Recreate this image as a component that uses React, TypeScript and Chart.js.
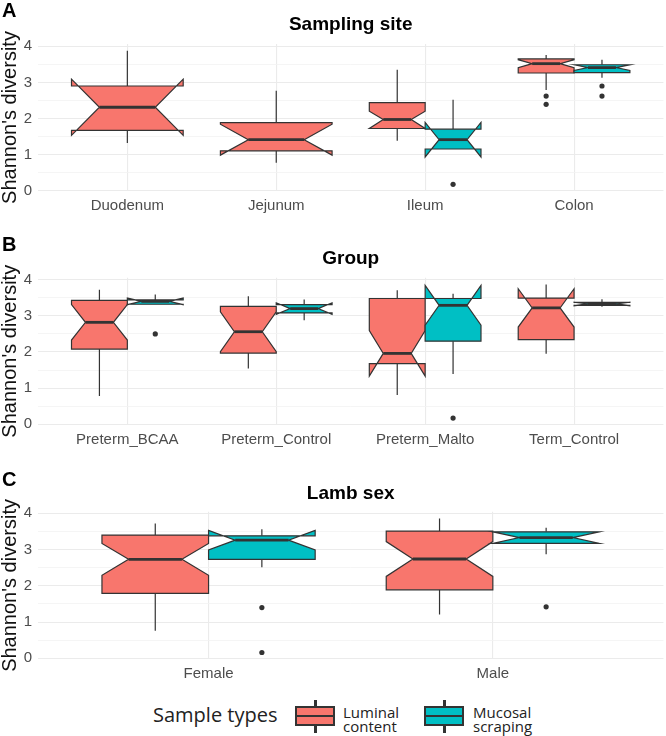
import React, { useEffect, useRef } from 'react';
import { Chart, registerables } from 'chart.js';

Chart.register(...registerables);

// Box statistics order: [lowerWhisker, q1, median, q3, upperWhisker, notchLower, notchUpper]
const siteCategories = ['Duodenum', 'Jejunum', 'Ileum', 'Colon'];
const siteLuminal = [
  [1.32, 1.67, 2.31, 2.90, 3.88, 1.53, 3.09],
  [0.77, 1.10, 1.41, 1.88, 2.77, 0.98, 1.84],
  [1.38, 1.72, 1.97, 2.44, 3.35, 1.72, 2.20],
  [2.79, 3.26, 3.52, 3.65, 3.76, 3.41, 3.63],
];
const siteMucosal = [
  null,
  null,
  [1.15, 1.15, 1.41, 1.70, 2.52, 0.93, 1.89],
  [3.13, 3.27, 3.41, 3.49, 3.63, 3.33, 3.49],
];
const siteLuminalOutliers = [[], [], [], [2.62, 2.39]];
const siteMucosalOutliers = [[], [], [0.17], [2.90, 2.62]];

const groupCategories = ['Preterm_BCAA', 'Preterm_Control', 'Preterm_Malto', 'Term_Control'];
const groupLuminal = [
  [0.78, 2.08, 2.82, 3.43, 3.72, 2.33, 3.31],
  [1.54, 1.97, 2.56, 3.26, 3.54, 2.01, 3.11],
  [0.81, 1.68, 1.96, 3.48, 3.71, 1.33, 2.59],
  [1.95, 2.34, 3.22, 3.49, 3.87, 2.69, 3.75],
];
const groupMucosal = [
  [3.32, 3.32, 3.40, 3.44, 3.59, 3.31, 3.49],
  [2.88, 3.08, 3.20, 3.31, 3.45, 3.04, 3.36],
  [1.39, 2.30, 3.29, 3.48, 3.61, 2.74, 3.84],
  [3.25, 3.29, 3.33, 3.37, 3.46, 3.28, 3.38],
];
const groupLuminalOutliers = [[], [], [], []];
const groupMucosalOutliers = [[2.50], [], [0.17], []];

const sexCategories = ['Female', 'Male'];
const sexLuminal = [
  [0.76, 1.79, 2.73, 3.40, 3.72, 2.29, 3.17],
  [1.21, 1.89, 2.74, 3.51, 3.86, 2.26, 3.22],
];
const sexMucosal = [
  [2.51, 2.73, 3.26, 3.38, 3.56, 2.99, 3.53],
  [2.87, 3.17, 3.33, 3.49, 3.60, 3.17, 3.49],
];
const sexLuminalOutliers = [[], []];
const sexMucosalOutliers = [[1.40, 0.16], [1.42]];

const yTickValues = [0, 0.5, 1, 1.5, 2, 2.5, 3, 3.5, 4];
const groupNames = ['Luminal content', 'Mucosal scraping'];
const groupColors = ['#F8766D', '#00BFC4'];
const yTitle = "Shannon's diversity";
const legendTitle = 'Sample types';

const OUTLINE = '#333333';

type Stats = number[] | null;

interface PanelProps {
  letter: string;
  title: string;
  categories: string[];
  luminal: Stats[];
  mucosal: Stats[];
  lumOut: number[][];
  mucOut: number[][];
  top: number;
  height: number;
  plotTop: number;
  plotBottom: number;
  letterY: number;
  titleY: number;
}

function BoxPanel(p: PanelProps) {
  const ref = useRef<HTMLCanvasElement>(null);
  useEffect(() => {
    if (!ref.current) return;
    const n = p.categories.length;
    const groups = [p.luminal, p.mucosal];
    const outs = [p.lumOut, p.mucOut];
    const pos = (i: number, g: number) => {
      const both = p.luminal[i] && p.mucosal[i];
      if (!both) return { cx: i + 1, w: 0.75 };
      return g === 0 ? { cx: i + 1 - 0.1875, w: 0.375 } : { cx: i + 1 + 0.1875, w: 0.375 };
    };
    const vals: number[] = [];
    groups.forEach((arr) => arr.forEach((s) => { if (s) { vals.push(s[0], s[4]); } }));
    outs.forEach((arr) => arr.forEach((o) => vals.push(...o)));
    const lo = Math.min(...vals);
    const hi = Math.max(...vals);
    const pad = (hi - lo) * 0.05;

    const mkPts = (o: number[][], g: number) =>
      o.flatMap((arr, i) => arr.map((v) => ({ x: pos(i, g).cx, y: v })));

    const boxPlugin = {
      id: 'notchedBoxes',
      beforeDatasetsDraw(chart: any) {
        const { ctx, scales } = chart;
        const xs = scales.x;
        const ys = scales.y;
        const Y = (v: number) => ys.getPixelForValue(v);
        ctx.save();
        groups.forEach((arr, g) => {
          arr.forEach((s, i) => {
            if (!s) return;
            const [wl, q1, med, q3, wh, nl, nu] = s;
            const { cx, w } = pos(i, g);
            const xl = xs.getPixelForValue(cx - w / 2);
            const xr = xs.getPixelForValue(cx + w / 2);
            const xc = xs.getPixelForValue(cx);
            const ind = (xr - xl) * 0.25;
            ctx.strokeStyle = OUTLINE;
            ctx.lineWidth = 1.2;
            ctx.lineJoin = 'miter';
            ctx.beginPath();
            ctx.moveTo(xc, Y(q3));
            ctx.lineTo(xc, Y(wh));
            ctx.moveTo(xc, Y(q1));
            ctx.lineTo(xc, Y(wl));
            ctx.stroke();
            ctx.beginPath();
            ctx.moveTo(xl, Y(q3));
            ctx.lineTo(xl, Y(nu));
            ctx.lineTo(xl + ind, Y(med));
            ctx.lineTo(xl, Y(nl));
            ctx.lineTo(xl, Y(q1));
            ctx.lineTo(xr, Y(q1));
            ctx.lineTo(xr, Y(nl));
            ctx.lineTo(xr - ind, Y(med));
            ctx.lineTo(xr, Y(nu));
            ctx.lineTo(xr, Y(q3));
            ctx.closePath();
            ctx.fillStyle = groupColors[g];
            ctx.fill();
            ctx.lineWidth = 1.2;
            ctx.stroke();
            ctx.beginPath();
            ctx.lineWidth = 2.8;
            ctx.moveTo(xl + ind, Y(med));
            ctx.lineTo(xr - ind, Y(med));
            ctx.stroke();
          });
        });
        ctx.restore();
      },
    };

    const textPlugin = {
      id: 'panelText',
      afterDraw(chart: any) {
        const { ctx, chartArea } = chart;
        ctx.save();
        ctx.fillStyle = '#000';
        ctx.textBaseline = 'middle';
        ctx.textAlign = 'left';
        ctx.font = 'bold 20px "Liberation Sans", Arial, sans-serif';
        ctx.fillText(p.letter, 2, p.letterY);
        ctx.textAlign = 'center';
        ctx.font = 'bold 19px "Liberation Sans", Arial, sans-serif';
        ctx.fillText(p.title, (chartArea.left + chartArea.right) / 2, p.titleY);
        ctx.restore();
      },
    };

    const chart = new Chart(ref.current, {
      type: 'scatter',
      data: {
        datasets: groupNames.map((name, g) => ({
          label: name,
          data: mkPts(outs[g], g),
          pointRadius: 2.6,
          pointHoverRadius: 2.6,
          pointBackgroundColor: OUTLINE,
          pointBorderWidth: 0,
        })),
      },
      options: {
        animation: false,
        responsive: false,
        devicePixelRatio: 1,
        events: [],
        layout: { padding: { top: p.plotTop, right: 1, left: 0, bottom: 0 } },
        plugins: {
          legend: { display: false },
          tooltip: { enabled: false },
          title: { display: false },
        },
        scales: {
          x: {
            type: 'linear',
            min: 0.4,
            max: n + 0.6,
            afterBuildTicks: (s: any) => {
              s.ticks = p.categories.map((_, i) => ({ value: i + 1 }));
            },
            afterFit: (s: any) => {
              s.height = p.height - p.plotBottom;
            },
            ticks: {
              callback: (v: any) => p.categories[Math.round(Number(v)) - 1] ?? '',
              font: { family: '"Liberation Sans", Arial, sans-serif', size: 15 },
              color: '#4D4D4D',
              padding: 6,
              maxRotation: 0,
              autoSkip: false,
            },
            grid: { color: '#EBEBEB', lineWidth: 1.1, drawTicks: false },
            border: { display: false },
          },
          y: {
            type: 'linear',
            min: lo - pad,
            max: hi + pad,
            afterBuildTicks: (s: any) => {
              s.ticks = yTickValues.map((v) => ({ value: v }));
            },
            afterFit: (s: any) => {
              s.width = 38;
            },
            ticks: {
              callback: (v: any) => (Number.isInteger(Number(v)) ? String(v) : ''),
              font: { family: '"Liberation Sans", Arial, sans-serif', size: 15 },
              color: '#4D4D4D',
              padding: 6,
              autoSkip: false,
            },
            grid: {
              color: (c: any) => (Number.isInteger(c.tick?.value) ? '#EBEBEB' : '#F3F3F3'),
              lineWidth: (c: any) => (Number.isInteger(c.tick?.value) ? 1.1 : 0.8),
              drawTicks: false,
            },
            border: { display: false },
            title: {
              display: true,
              text: yTitle,
              font: { family: '"Liberation Sans", Arial, sans-serif', size: 20, lineHeight: 1 },
              color: '#111',
              padding: { top: 0, bottom: 0 },
            },
          },
        },
      },
      plugins: [boxPlugin, textPlugin],
    } as any);
    return () => chart.destroy();
  }, []);
  return (
    <canvas
      ref={ref}
      width={666}
      height={p.height}
      style={{ position: 'absolute', left: 0, top: p.top, width: 666, height: p.height, display: 'block' }}
    />
  );
}

function LegendKey({ left, color }: { left: number; color: string }) {
  return (
    <div style={{ position: 'absolute', left, top: 10, width: 40, height: 33 }}>
      <div style={{ position: 'absolute', left: 19, top: 0, width: 2.6, height: 33, background: OUTLINE }} />
      <div
        style={{
          position: 'absolute',
          left: 0,
          top: 6,
          width: 40,
          height: 20,
          boxSizing: 'border-box',
          border: `2.6px solid ${OUTLINE}`,
          background: color,
        }}
      />
      <div style={{ position: 'absolute', left: 0, top: 14.7, width: 40, height: 2.6, background: OUTLINE }} />
    </div>
  );
}

function Legend() {
  const font = '"Open Sans", "DejaVu Sans", sans-serif';
  const labelStyle = (left: number, top: number): React.CSSProperties => ({
    position: 'absolute',
    left,
    top,
    fontFamily: font,
    fontSize: 15,
    lineHeight: '14px',
    color: '#222',
    whiteSpace: 'nowrap',
  });
  return (
    <div style={{ position: 'absolute', left: 0, top: 690, width: 666, height: 46 }}>
      <div
        style={{
          position: 'absolute',
          left: 153,
          top: 14,
          fontFamily: font,
          fontSize: 20,
          lineHeight: '22px',
          color: '#222',
          whiteSpace: 'nowrap',
        }}
      >
        {legendTitle}
      </div>
      <LegendKey left={295} color={groupColors[0]} />
      <div style={labelStyle(343, 15)}>Luminal</div>
      <div style={labelStyle(343, 29)}>content</div>
      <LegendKey left={424} color={groupColors[1]} />
      <div style={labelStyle(473, 15)}>Mucosal</div>
      <div style={labelStyle(473, 29)}>scraping</div>
    </div>
  );
}

export default function App() {
  return (
    <div style={{ position: 'absolute', left: 0, top: 0, width: 666, height: 736, background: '#fff' }}>
      <BoxPanel
        letter="A"
        title="Sampling site"
        categories={siteCategories}
        luminal={siteLuminal}
        mucosal={siteMucosal}
        lumOut={siteLuminalOutliers}
        mucOut={siteMucosalOutliers}
        top={0}
        height={230}
        plotTop={44}
        plotBottom={191}
        letterY={11}
        titleY={25}
      />
      <BoxPanel
        letter="B"
        title="Group"
        categories={groupCategories}
        luminal={groupLuminal}
        mucosal={groupMucosal}
        lumOut={groupLuminalOutliers}
        mucOut={groupMucosalOutliers}
        top={230}
        height={230}
        plotTop={47.7}
        plotBottom={194.8}
        letterY={15}
        titleY={29}
      />
      <BoxPanel
        letter="C"
        title="Lamb sex"
        categories={sexCategories}
        luminal={sexLuminal}
        mucosal={sexMucosal}
        lumOut={sexLuminalOutliers}
        mucOut={sexMucosalOutliers}
        top={460}
        height={230}
        plotTop={51.7}
        plotBottom={199.2}
        letterY={20}
        titleY={34}
      />
      <Legend />
    </div>
  );
}
